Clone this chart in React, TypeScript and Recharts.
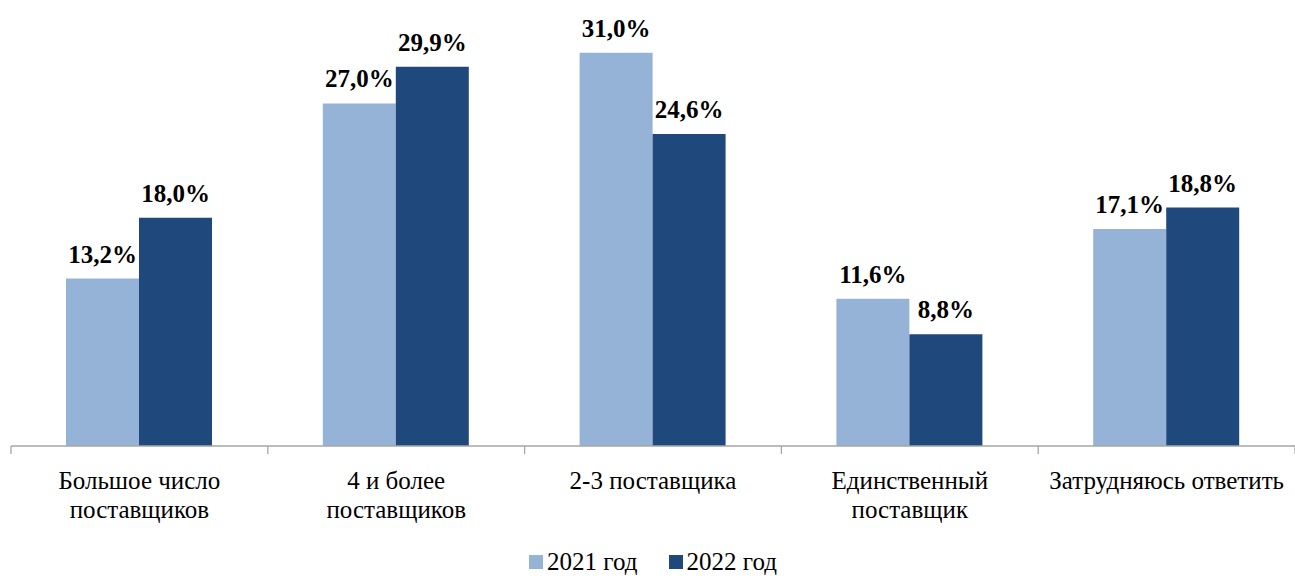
import React from "react";
import { BarChart, Bar, XAxis, YAxis, LabelList, Legend } from "recharts";

const categories = [
  "Большое число\nпоставщиков",
  "4 и более\nпоставщиков",
  "2-3 поставщика",
  "Единственный\nпоставщик",
  "Затрудняюсь ответить",
];
const values2021 = [13.2, 27.0, 31.0, 11.6, 17.1];
const values2022 = [18.0, 29.9, 24.6, 8.8, 18.8];
const seriesNames = ["2021 год", "2022 год"];
const colors = ["#95B3D7", "#1F497D"];

const data = categories.map((c, i) => ({ name: c, v2021: values2021[i], v2022: values2022[i] }));

const FONT = '"Times New Roman", Times, Tinos, "Liberation Serif", "DejaVu Serif", serif';

const fmt = (v: any) => Number(v).toFixed(1).replace(".", ",") + "%";

const CategoryTick = (props: any) => {
  const { x, y, payload, index } = props;
  const bw = 1284 / categories.length;
  const lines = String(payload.value).split("\n");
  return (
    <g>
      <line x1={x - bw / 2} x2={x - bw / 2} y1={y - 8} y2={y} stroke="#A6A6A6" strokeWidth={1.3} />
      {index === categories.length - 1 && (
        <line x1={x + bw / 2} x2={x + bw / 2} y1={y - 8} y2={y} stroke="#A6A6A6" strokeWidth={1.3} />
      )}
      {lines.map((l: string, i: number) => (
        <text
          key={i}
          x={x}
          y={y + 35 + i * 29}
          textAnchor="middle"
          fill="#000"
          style={{ fontFamily: FONT, fontSize: 25 }}
        >
          {l}
        </text>
      ))}
    </g>
  );
};

const LegendContent = () => (
  <div style={{ display: "flex", justifyContent: "center", alignItems: "center", fontFamily: FONT, fontSize: 25, color: "#000", lineHeight: "26px", paddingTop: 3 }}>
    {seriesNames.map((n, i) => (
      <div key={n} style={{ display: "flex", alignItems: "center", marginLeft: i ? 31 : 0 }}>
        <span style={{ display: "inline-block", width: 14, height: 14, background: colors[i], marginRight: 4 }} />
        <span>{n}</span>
      </div>
    ))}
  </div>
);

const labelStyle = { fontFamily: FONT, fontSize: 25, fontWeight: "bold", fill: "#000" };

export default function App() {
  return (
    <div style={{ position: "absolute", left: 0, top: 0 }}>
      <BarChart
        width={1295}
        height={576}
        data={data}
        margin={{ top: 2, right: 0, bottom: 0, left: 11 }}
        barGap={0}
        barCategoryGap={55}
      >
        <XAxis
          dataKey="name"
          tick={<CategoryTick />}
          tickLine={false}
          axisLine={{ stroke: "#A6A6A6", strokeWidth: 1.3 }}
          interval={0}
          height={100}
        />
        <YAxis hide domain={[0, 35]} />
        <Legend content={<LegendContent />} verticalAlign="bottom" height={30} />
        <Bar dataKey="v2021" name={seriesNames[0]} fill={colors[0]} isAnimationActive={false}>
          <LabelList dataKey="v2021" position="top" offset={16} formatter={fmt} style={labelStyle} />
        </Bar>
        <Bar dataKey="v2022" name={seriesNames[1]} fill={colors[1]} isAnimationActive={false}>
          <LabelList dataKey="v2022" position="top" offset={16} formatter={fmt} style={labelStyle} />
        </Bar>
      </BarChart>
    </div>
  );
}
